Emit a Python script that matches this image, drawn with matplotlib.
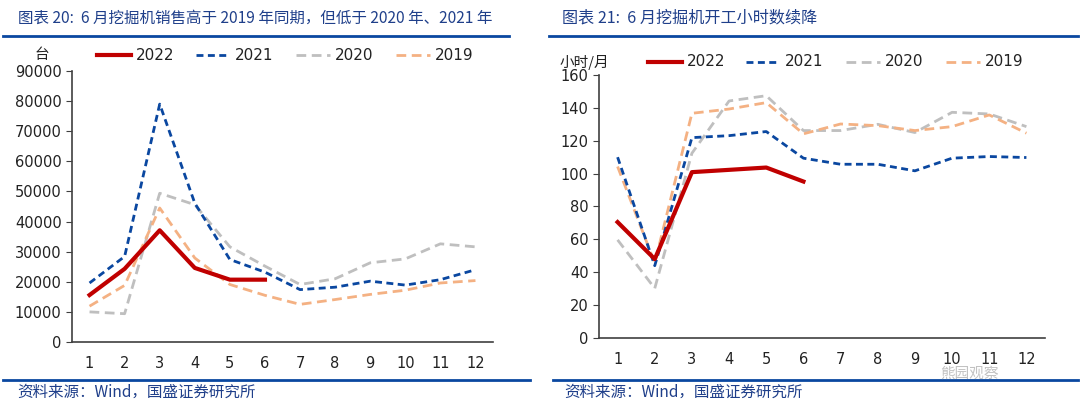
import numpy as np
import matplotlib
matplotlib.use("Agg")
import matplotlib.pyplot as plt
from matplotlib.lines import Line2D

plt.rcParams['font.family'] = ['DejaVu Sans', 'Noto Sans CJK SC']

months = list(range(1, 13))
month_labels = [str(m) for m in months]

# 挖掘机销量 (台)
sales_2022 = [15600, 24300, 37100, 24600, 20700, 20700]
sales_2021 = [19600, 28400, 79000, 46100, 27400, 23200, 17400, 18200, 20200, 18900, 20700, 24000]
sales_2020 = [10000, 9400, 49400, 45600, 31600, 25200, 19100, 21000, 26300, 27600, 32600, 31600]
sales_2019 = [11900, 18800, 44500, 27900, 19100, 15500, 12500, 14100, 15800, 17200, 19600, 20400]

# 开工小时数 (小时/月)
hours_2022 = [70.5, 48, 100.9, 102.3, 103.7, 95.2]
hours_2021 = [110, 44, 121.9, 123.1, 125.6, 109.4, 105.7, 105.7, 101.7, 109.4, 110.4, 109.8]
hours_2020 = [59.7, 30.2, 112.4, 144.2, 147.4, 126.2, 126.2, 130, 125, 137.3, 136.3, 128.6]
hours_2019 = [104.3, 45.6, 136.7, 139.3, 143.2, 124.2, 130.2, 129.2, 126.2, 128.6, 135.7, 124.6]

RED = "#C00000"
BLUE = "#0A47A0"
GRAY = "#BFBFBF"
ORANGE = "#F4B183"
TITLE_C = "#1F3F8A"
CJK = ['Noto Sans CJK SC', 'DejaVu Sans']

W, H = 1080, 412
fig = plt.figure(figsize=(W / 100, H / 100), dpi=100)


def ax_px(l, t, r, b):
    return fig.add_axes([l / W, 1 - b / H, (r - l) / W, (b - t) / H])


def draw(ax, data, ymax, ystep):
    d22, d21, d20, d19 = data
    ax.plot(months, d20, color=GRAY, lw=2, ls=(0, (3.5, 2)))
    ax.plot(months, d19, color=ORANGE, lw=2, ls=(0, (3.5, 2)))
    ax.plot(months, d21, color=BLUE, lw=2, ls=(0, (2.5, 1.6)))
    ax.plot(months[:len(d22)], d22, color=RED, lw=3)
    ax.set_ylim(0, ymax)
    ax.set_yticks(np.arange(0, ymax + 1, ystep))
    ax.set_xlim(0.5, 12.5)
    ax.set_xticks(months)
    ax.set_xticklabels(month_labels)
    for s in ["top", "right"]:
        ax.spines[s].set_visible(False)
    for s in ["left", "bottom"]:
        ax.spines[s].set_color("#404040")
        ax.spines[s].set_linewidth(1.2)
    ax.tick_params(axis="x", length=0, pad=10, labelsize=10.5, colors="#222222")
    ax.tick_params(axis="y", length=4, labelsize=10.5, colors="#222222", direction="out")
    ax.tick_params(axis="y", color="#404040")


def legend_row(y_px, x_starts, unit, unit_x):
    labels = ["2022", "2021", "2020", "2019"]
    styles = [(RED, "-", 3), (BLUE, (0, (2.5, 1.6)), 2), (GRAY, (0, (3.5, 2)), 2), (ORANGE, (0, (3.5, 2)), 2)]
    y = 1 - y_px / H
    for x0, lab, (c, ls, lw) in zip(x_starts, labels, styles):
        fig.add_artist(Line2D([x0 / W, (x0 + 34) / W], [y, y], color=c, ls=ls, lw=lw))
        fig.text((x0 + 39) / W, y, lab, fontsize=11, va="center", color="#222222")
    fig.text(unit_x / W, y, unit, fontsize=10.5, va="center", color="#222222", family=CJK)


ax1 = ax_px(72, 71, 493, 342)
draw(ax1, (sales_2022, sales_2021, sales_2020, sales_2019), 90000, 10000)
legend_row(55, [97, 196, 296, 396], "台", 35)

ax2 = ax_px(599, 75, 1045, 338)
draw(ax2, (hours_2022, hours_2021, hours_2020, hours_2019), 160, 20)
legend_row(62, [648, 746, 846, 946], "小时/月", 560)

# titles and rules
fig.text(18 / W, 1 - 18 / H, "图表 20:  6 月挖掘机销售高于 2019 年同期，但低于 2020 年、2021 年",
         fontsize=11.2, color=TITLE_C, va="center", style="italic", family=CJK)
fig.text(562 / W, 1 - 18 / H, "图表 21:  6 月挖掘机开工小时数续降",
         fontsize=11.6, color=TITLE_C, va="center", style="italic", family=CJK)
for x0, x1 in [(3, 509), (549, 1078)]:
    fig.add_artist(Line2D([x0 / W, x1 / W], [1 - 36 / H] * 2, color=BLUE, lw=2))
for x0, x1 in [(3, 530), (553, 1078)]:
    fig.add_artist(Line2D([x0 / W, x1 / W], [1 - 380 / H] * 2, color=BLUE, lw=2))
fig.text(17 / W, 1 - 392 / H, "资料来源：Wind，国盛证券研究所", fontsize=11.2, color=TITLE_C,
         va="center", style="italic", family=CJK)
fig.text(564 / W, 1 - 392 / H, "资料来源：Wind，国盛证券研究所", fontsize=11.2, color=TITLE_C,
         va="center", style="italic", family=CJK)

# watermark
fig.text(940 / W, 1 - 374 / H, "熊园观察", fontsize=10.5, color="#A8A8A8", alpha=0.7,
         va="center", family=CJK)

fig.savefig("out.png", dpi=100)
plt.close()
